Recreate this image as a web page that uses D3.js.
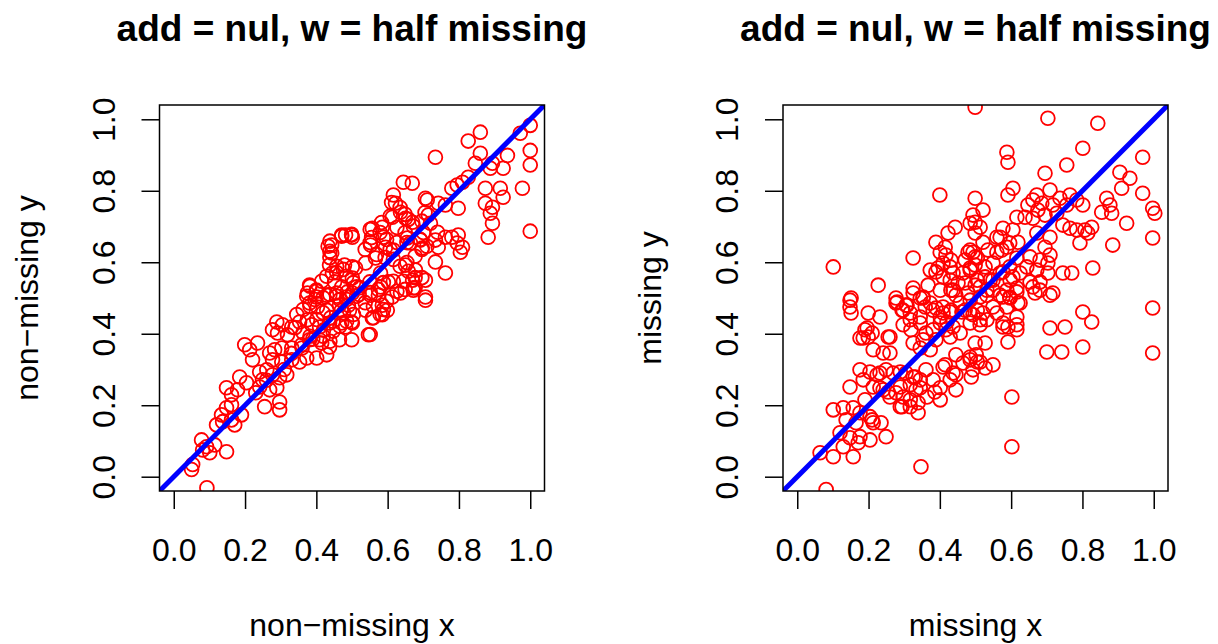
<!DOCTYPE html>
<html><head><meta charset="utf-8">
<script src="https://cdn.jsdelivr.net/npm/d3@7"></script>
<style>body{margin:0;background:#fff}svg{display:block}</style>
</head><body>
<script>
// ---------- data ----------
const titles = ["add = nul, w = half missing", "add = nul, w = half missing"];
const xLabels = ["non\u2212missing x", "missing x"];
const yLabels = ["non\u2212missing y", "missing y"];
const tickValues = [0, 0.2, 0.4, 0.6, 0.8, 1.0];
const tickLabels = ["0.0", "0.2", "0.4", "0.6", "0.8", "1.0"];

const nonMissingX = [
1.0,0.972,0.86,0.826,0.734,0.86,0.846,0.936,1.0,1.0,0.924,0.894,0.888,0.826,0.81,0.795,0.78,0.644,0.669,0.616,0.706,0.711,0.622,0.636,0.742,0.762,0.798,0.874,0.916,0.924,0.978,0.874,0.894,0.888,0.894,0.882,1.0,0.613,0.65,0.67,0.714,0.72,0.74,0.557,0.585,0.588,0.501,0.482,0.552,0.594,0.616,0.655,0.664,0.692,0.697,0.734,0.742,0.762,0.78,0.798,0.795,0.81,0.804,0.734,0.762,0.706,0.65,0.678,0.67,0.672,0.636,0.706,0.566,0.538,0.51,0.501,0.602,0.58,0.552,
0.471,0.499,0.443,0.443,0.437,0.445,0.479,0.501,0.381,0.40,0.451,0.471,0.487,0.513,
0.375,0.40,0.429,0.457,0.485,0.501,0.381,0.403,0.429,0.465,0.493,0.289,0.305,0.331,0.353,0.375,0.387,0.409,0.437,0.471,0.499,0.277,0.291,0.319,0.199,0.235,0.213,0.221,0.269,0.283,0.303,0.331,0.359,0.381,0.409,0.437,0.465,0.499,0.277,0.303,0.331,0.353,0.373,0.401,0.429,0.185,0.204,0.179,0.148,0.162,0.241,0.261,0.277,0.297,0.317,0.249,0.241,0.269,0.289,0.255,0.297,0.297,0.19,0.162,0.148,0.134,0.137,0.12,0.162,0.171,0.078,0.092,0.115,0.148,0.101,0.081,0.053,0.05,0.093,
0.672,0.706,0.546,0.585,0.599,0.585,0.557,0.538,0.501,0.482,0.613,0.574,
0.611,0.635,0.649,0.658,0.607,0.583,0.551,0.555,0.579,0.597,0.626,0.649,0.672,0.696,0.705,0.700,0.691,0.654,0.626,0.607,0.551,0.537,0.569,0.593,0.616,0.635,0.654,0.677,0.696,0.710,0.658,0.677,0.644,0.696,0.677,0.649,0.626,0.616,0.588,0.574,0.551,0.522,0.504,0.485,0.476,0.457,0.438,0.433,0.438,0.471,0.499,0.438,0.457,0.429,0.415,0.382,0.401,0.373,0.396,0.419,0.438,0.457,0.485,0.513,0.537,0.560,0.588,0.579,0.560,0.597,0.551,0.504,0.485,0.466,0.447,0.419,0.401,0.382,0.363,0.345,0.340,0.363,0.382,0.419,0.438,0.415,0.447,0.476,0.466,
0.36,0.39,0.42,0.44,0.47,0.49,0.52,0.55,0.58,0.33,0.31,0.26,0.23
];
const nonMissingY = [
0.983,0.961,0.964,0.939,0.894,0.905,0.877,0.899,0.913,0.872,0.863,0.877,0.863,0.838,0.824,0.816,0.807,0.824,0.821,0.788,0.779,0.774,0.765,0.740,0.765,0.760,0.751,0.807,0.807,0.782,0.807,0.765,0.754,0.737,0.709,0.670,0.687,0.726,0.723,0.712,0.732,0.709,0.684,0.695,0.698,0.670,0.670,0.676,0.648,0.642,0.634,0.668,0.654,0.662,0.640,0.662,0.642,0.670,0.670,0.676,0.654,0.642,0.628,0.601,0.570,0.550,0.592,0.578,0.550,0.528,0.514,0.503,0.612,0.598,0.584,0.556,0.545,0.531,0.508,
0.676,0.676,0.648,0.626,0.592,0.570,0.592,0.587,0.536,0.522,0.545,0.531,0.517,0.531,
0.514,0.503,0.508,0.514,0.503,0.514,0.486,0.475,0.466,0.480,0.466,0.433,0.425,0.419,0.433,0.439,0.425,0.419,0.430,0.430,0.433,0.411,0.402,0.397,0.369,0.374,0.355,0.327,0.346,0.355,0.360,0.360,0.369,0.383,0.383,0.363,0.383,0.383,0.327,0.321,0.327,0.321,0.332,0.332,0.341,0.279,0.263,0.243,0.249,0.229,0.293,0.299,0.285,0.277,0.285,0.271,0.251,0.243,0.249,0.196,0.209,0.187,0.173,0.201,0.193,0.173,0.154,0.145,0.159,0.145,0.103,0.084,0.089,0.070,0.067,0.075,0.034,0.020,-0.031,
0.522,0.494,0.397,0.480,0.466,0.453,0.444,0.466,0.430,0.419,0.503,0.508,
0.767,0.753,0.734,0.720,0.729,0.711,0.692,0.669,0.683,0.664,0.697,0.683,0.701,0.715,0.739,0.683,0.664,0.655,0.655,0.636,0.655,0.636,0.622,0.613,0.608,0.589,0.599,0.617,0.636,0.645,0.575,0.557,0.547,0.557,0.529,0.524,0.519,0.547,0.543,0.524,0.515,0.529,0.543,0.561,0.580,0.589,0.613,0.645,0.659,0.673,0.678,0.631,0.571,0.561,0.547,0.533,0.519,0.505,0.496,0.501,0.510,0.505,0.496,0.505,0.487,0.477,0.468,0.454,0.445,0.491,0.398,0.454,0.435,0.421,0.435,0.459,0.440,0.477,0.468,0.454,0.417,0.403,0.393,0.393,0.379,0.374,0.407,0.459,0.496,
0.36,0.385,0.41,0.445,0.465,0.48,0.51,0.545,0.57,0.345,0.30,0.27,0.235
];

const missingX = [
0.499,0.40,0.499,0.493,0.499,0.443,0.423,0.499,0.389,0.415,0.479,0.499,0.417,0.431,0.409,0.429,0.325,0.101,0.389,0.409,0.437,0.465,0.485,0.499,0.227,0.325,0.367,0.353,0.431,0.445,0.471,0.499,0.479,0.151,0.277,
0.703,0.843,0.588,0.591,0.801,0.756,0.695,0.969,0.905,0.933,0.910,0.969,0.605,0.591,0.521,0.485,0.513,0.672,0.709,0.737,0.765,0.784,0.801,0.756,0.647,0.661,0.686,0.717,0.675,0.639,0.661,0.695,0.728,0.868,0.877,0.854,0.882,0.997,1.003,0.924,0.997,0.885,0.826,0.807,0.815,0.784,0.765,0.745,0.793,0.829,0.770,0.745,0.709,0.672,0.695,0.709,0.703,0.703,0.717,0.577,0.605,0.560,0.596,0.574,0.535,0.493,0.521,0.653,0.681,0.644,0.672,0.625,0.653,0.681,0.661,0.681,0.527,0.549,0.569,0.597,0.541,0.513,0.588,0.616,0.532,
0.148,0.148,0.151,0.199,0.232,0.277,0.297,0.317,0.305,0.325,0.353,0.373,0.389,0.409,0.431,0.457,0.485,0.471,0.493,0.513,0.190,0.176,0.199,0.26,0.297,0.319,0.345,0.361,0.381,0.401,0.417,0.437,0.457,0.325,0.345,0.373,0.353,0.389,0.429,0.213,0.241,0.26,0.499,0.502,0.485,0.513,0.488,0.445,0.445,0.409,0.429,0.361,0.381,0.401,0.401,0.445,0.339,0.176,0.204,0.232,0.249,0.269,0.289,0.305,0.325,0.345,0.148,0.185,0.213,0.241,0.26,0.277,0.297,0.317,0.289,0.333,0.101,0.129,0.157,0.176,0.204,0.165,0.137,0.213,0.235,0.12,0.148,0.176,0.171,0.249,0.204,0.064,0.101,0.129,0.157,0.347,0.081,
0.709,0.667,0.625,0.597,0.577,0.549,0.521,0.505,0.801,0.826,0.997,0.709,0.751,0.616,0.591,0.616,0.577,0.513,0.485,0.591,0.527,0.700,0.742,0.801,0.997,0.485,0.505,0.527,0.549,0.493,0.602,0.602,
0.401,0.395,0.373,0.485,0.471,0.505,0.485,0.527,0.549,0.505,0.401,0.437,0.429,0.451,0.280,0.294,0.308,0.345,0.359,0.381,0.409,0.401,0.429,0.462,0.485,0.420,0.513,0.345,0.317,0.616,0.619,0.616,0.596,0.588,0.569,0.560,0.577,0.605,0.616,0.596,0.619,0.616,0.588,0.569,0.549,0.532,0.560,0.577,0.532,
0.185,0.210,0.196,0.255,0.415,0.437,0.465,0.386,0.364,0.339,0.317,0.294,0.289,0.317,0.345,0.331,0.255,0.232,0.224,0.190,0.210
];
const missingY = [
1.034,0.788,0.779,0.732,0.712,0.698,0.682,0.682,0.656,0.642,0.628,0.615,0.620,0.606,0.598,0.587,0.612,0.587,0.573,0.559,0.570,0.570,0.584,0.592,0.536,0.528,0.536,0.503,0.522,0.508,0.542,0.536,0.514,0.500,0.500,
1.003,0.989,0.908,0.880,0.919,0.872,0.849,0.894,0.852,0.835,0.807,0.793,0.807,0.788,0.746,0.709,0.698,0.788,0.802,0.779,0.788,0.774,0.760,0.760,0.760,0.774,0.765,0.760,0.746,0.726,0.723,0.732,0.737,0.779,0.760,0.740,0.737,0.751,0.737,0.709,0.668,0.648,0.698,0.690,0.682,0.690,0.695,0.704,0.654,0.584,0.570,0.570,0.670,0.682,0.642,0.620,0.598,0.570,0.514,0.695,0.690,0.670,0.654,0.634,0.634,0.628,0.656,0.615,0.606,0.587,0.578,0.570,0.545,0.545,0.531,0.522,0.587,0.598,0.570,0.550,0.550,0.531,0.522,0.517,0.508,
0.494,0.475,0.458,0.458,0.447,0.486,0.466,0.458,0.480,0.514,0.500,0.486,0.472,0.458,0.466,0.486,0.494,0.466,0.453,0.503,0.411,0.388,0.391,0.391,0.425,0.411,0.430,0.402,0.411,0.430,0.411,0.419,0.402,0.374,0.360,0.355,0.383,0.383,0.391,0.355,0.346,0.346,0.374,0.341,0.327,0.321,0.279,0.341,0.285,0.307,0.271,0.299,0.271,0.249,0.215,0.243,0.179,0.299,0.293,0.290,0.299,0.290,0.293,0.290,0.279,0.271,0.251,0.271,0.251,0.243,0.223,0.235,0.223,0.215,0.196,0.243,0.187,0.193,0.193,0.179,0.168,0.151,0.159,0.151,0.151,0.123,0.109,0.112,0.095,0.112,0.103,0.067,0.056,0.084,0.056,0.028,-0.036,
0.508,0.514,0.486,0.500,0.503,0.475,0.458,0.466,0.461,0.433,0.472,0.416,0.419,0.425,0.419,0.411,0.419,0.425,0.430,0.377,0.374,0.349,0.349,0.363,0.346,0.335,0.321,0.304,0.313,0.299,0.223,0.084,
0.628,0.584,0.578,0.634,0.606,0.612,0.578,0.559,0.550,0.550,0.522,0.522,0.550,0.542,0.489,0.466,0.480,0.500,0.475,0.466,0.475,0.447,0.461,0.461,0.458,0.433,0.439,0.447,0.439,0.726,0.656,0.612,0.587,0.642,0.670,0.628,0.573,0.559,0.528,0.503,0.486,0.447,0.475,0.508,0.522,0.522,0.458,0.430,0.439,
0.388,0.402,0.416,0.391,0.313,0.290,0.318,0.237,0.223,0.207,0.196,0.196,0.251,0.257,0.249,0.279,0.237,0.249,0.285,0.215,0.159
];

// ---------- drawing ----------
const W = 1218, H = 644;
const svg = d3.select("body").append("svg").attr("width", W).attr("height", H)
  .style("font-family", "'Liberation Sans', Arial, Helvetica, sans-serif");

const panels = [
  {left: 159.5, right: 544.5, off: 0, xs: nonMissingX, ys: nonMissingY},
  {left: 783, right: 1168, off: 623, xs: missingX, ys: missingY}
];
const plotTop = 105, plotBottom = 491;
const dom = [-0.04, 1.04];

panels.forEach((p, i) => {
  const g = svg.append("g");
  const x = d3.scaleLinear().domain(dom).range([p.left, p.right]);
  const y = d3.scaleLinear().domain(dom).range([plotBottom, plotTop]);
  const clipId = "clip" + i;
  svg.append("clipPath").attr("id", clipId).append("rect")
    .attr("x", p.left).attr("y", plotTop).attr("width", p.right - p.left).attr("height", plotBottom - plotTop);

  const pts = d3.zip(p.xs, p.ys);
  g.append("g").attr("clip-path", `url(#${clipId})`)
    .selectAll("circle").data(pts).join("circle")
    .attr("cx", d => x(d[0])).attr("cy", d => y(d[1])).attr("r", 6.9)
    .attr("fill", "none").attr("stroke", "#ff0000").attr("stroke-width", 1.8);

  g.append("g").attr("clip-path", `url(#${clipId})`)
    .append("line")
    .attr("x1", x(dom[0])).attr("y1", y(dom[0])).attr("x2", x(dom[1])).attr("y2", y(dom[1]))
    .attr("stroke", "#0000ff").attr("stroke-width", 5);

  // box
  g.append("rect").attr("x", p.left).attr("y", plotTop)
    .attr("width", p.right - p.left).attr("height", plotBottom - plotTop)
    .attr("fill", "none").attr("stroke", "#000").attr("stroke-width", 1.5);

  // x axis
  const xa = d3.axisBottom(x).tickValues(tickValues).tickFormat((d, k) => tickLabels[k])
    .tickSize(18).tickPadding(0);
  const gx = g.append("g").attr("transform", `translate(0,${plotBottom})`).call(xa);
  gx.select(".domain").remove();
  gx.selectAll(".tick line").attr("stroke", "#000").attr("stroke-width", 1.5);
  gx.selectAll(".tick text").attr("y", 70).attr("dy", null)
    .attr("font-size", 32).attr("fill", "#000").attr("font-family", null);

  // y axis
  const ya = d3.axisLeft(y).tickValues(tickValues).tickFormat((d, k) => tickLabels[k])
    .tickSize(18).tickPadding(0);
  const gy = g.append("g").attr("transform", `translate(${p.left},0)`).call(ya);
  gy.select(".domain").remove();
  gy.selectAll(".tick line").attr("stroke", "#000").attr("stroke-width", 1.5);
  gy.selectAll(".tick text")
    .attr("x", null).attr("dy", null)
    .attr("text-anchor", "middle")
    .attr("transform", `translate(${114.5 + p.off - p.left},0) rotate(-90)`)
    .attr("font-size", 32).attr("fill", "#000").attr("font-family", null);

  const cx = (p.left + p.right) / 2;
  g.append("text").attr("x", cx).attr("y", 41).attr("text-anchor", "middle")
    .attr("font-size", 37).attr("font-weight", "bold").text(titles[i]);
  g.append("text").attr("x", cx).attr("y", 636).attr("text-anchor", "middle")
    .attr("font-size", 32).text(xLabels[i]);
  const yl = 37.5 + p.off;
  g.append("text").attr("transform", `translate(${yl},${(plotTop + plotBottom) / 2}) rotate(-90)`)
    .attr("text-anchor", "middle").attr("font-size", 32).text(yLabels[i]);
});
</script>
</body></html>
